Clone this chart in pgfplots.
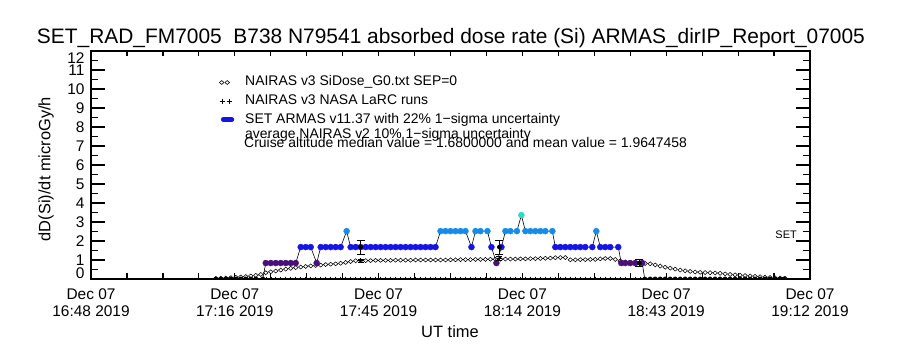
\documentclass[border=0pt]{standalone}
\usepackage{pgfplots}
\pgfplotsset{compat=1.18}
\usepackage{pgfplotstable}
\usepackage{fontspec}
\setmainfont{Liberation Sans}
\definecolor{purpC}{RGB}{75,15,120}
\definecolor{blueC}{RGB}{20,20,230}
\definecolor{lightC}{RGB}{20,140,235}
\definecolor{cyanC}{RGB}{40,220,200}

% NAIRAS v3 SiDose_G0 (minutes after 16:48 UT, microGy/h)
\pgfplotstableread{
t v
25 0.03
26 0.04
27 0.05
28 0.07
29 0.09
30 0.11
31 0.13
32 0.16
33 0.19
34 0.24
35 0.33
36 0.38
37 0.42
38 0.47
39 0.52
40 0.56
41 0.60
42 0.63
43 0.66
44 0.69
45 0.71
46 0.73
47 0.76
48 0.78
49 0.80
50 0.83
51 0.87
52 0.92
53 0.96
54 0.97
55 0.97
56 0.97
57 0.98
58 0.98
59 0.98
60 0.98
61 0.99
62 0.99
63 0.99
64 0.99
65 1.00
66 1.00
67 1.00
68 1.00
69 1.00
70 1.00
71 1.00
72 1.01
73 1.01
74 1.02
75 1.02
76 1.02
77 1.03
78 1.03
79 1.03
80 1.04
81 1.04
82 1.04
83 1.05
84 1.05
85 1.05
86 1.06
87 1.06
88 1.07
89 1.07
90 1.08
91 1.09
92 1.10
93 1.12
94 1.13
95 1.13
96 1.01
97 1.01
98 1.02
99 1.02
100 1.03
101 1.03
102 1.06
103 1.08
104 1.08
105 1.03
106 0.95
107 0.90
108 0.86
109 0.83
110 0.82
111 0.82
112 0.80
113 0.74
114 0.68
115 0.62
116 0.57
117 0.52
118 0.47
119 0.43
120 0.40
121 0.37
122 0.35
123 0.34
124 0.33
125 0.32
126 0.30
127 0.27
128 0.24
129 0.22
130 0.20
131 0.18
132 0.16
133 0.14
134 0.12
135 0.10
136 0.08
137 0.06
138 0.05
139 0.04
}\nairas

% SET ARMAS v11.37 (class: z=0, p=0.84, b=1.68, l=2.52, c=3.36)
\pgfplotstableread{
t v c
25 0 z
26 0 z
27 0 z
28 0 z
29 0 z
30 0 z
31 0 z
32 0 z
33 0 z
34.4 0 z
35 0.84 p
36 0.84 p
37 0.84 p
38 0.84 p
39 0.84 p
40 0.84 p
41 0.84 p
42 1.68 b
43 1.68 b
44 1.68 b
45.2 0.84 p
46 1.68 b
47 1.68 b
48 1.68 b
49 1.68 b
50 1.68 b
51.2 2.52 l
52 1.68 b
53 1.68 b
54 1.68 b
55 1.68 b
56 1.68 b
57 1.68 b
58 1.68 b
59 1.68 b
60 1.68 b
61 1.68 b
62 1.68 b
63 1.68 b
64 1.68 b
65 1.68 b
66 1.68 b
67 1.68 b
68 1.68 b
69 1.68 b
70 2.52 l
71 2.52 l
72 2.52 l
73 2.52 l
74 2.52 l
75 2.52 l
76.2 1.68 b
77 2.52 l
78 2.52 l
79.4 2.52 l
80.2 1.68 b
81.2 0.84 p
82.2 1.68 b
83 2.52 l
84 2.52 l
85.3 2.52 l
86.2 3.36 c
87 2.52 l
88 2.52 l
89 2.52 l
90 2.52 l
91 2.52 l
92.4 2.52 l
93 1.68 b
94 1.68 b
95 1.68 b
96 1.68 b
97 1.68 b
98 1.68 b
99 1.68 b
100.4 1.68 b
101.2 2.52 l
102 1.68 b
103 1.68 b
104 1.68 b
105.6 1.68 b
106.2 0.84 p
107 0.84 p
108 0.84 p
109 0.84 p
110.4 0.84 p
110.9 0 z
112 0 z
113 0 z
114 0 z
115 0 z
116 0 z
117 0 z
118 0 z
119 0 z
120 0 z
121 0 z
122 0 z
123 0 z
124 0 z
125 0 z
126 0 z
127 0 z
128 0 z
129 0 z
130 0 z
131 0 z
132 0 z
133 0 z
134 0 z
135 0 z
136 0 z
137 0 z
138 0 z
138.8 0 z
}\armas

\begin{document}
\begin{tikzpicture}
\useasboundingbox (0,0) rectangle (900bp,350bp);
\begin{axis}[
  at={(91bp,71bp)}, anchor=south west,
  scale only axis, width=719bp, height=228bp,
  xmin=0, xmax=144, ymin=0, ymax=12,
  axis line style={line width=1.5bp},
  tick style={black, line width=1.2bp},
  tick align=inside,
  major tick length=14bp, minor tick length=7bp,
  xtick style={/pgfplots/major tick length=5.5bp, /pgfplots/minor tick length=5.5bp},
  xtick={0,28.8,57.6,86.4,115.2,144},
  xticklabels={{Dec 07\\16:48 2019},{Dec 07\\17:16 2019},{Dec 07\\17:45 2019},{Dec 07\\18:14 2019},{Dec 07\\18:43 2019},{Dec 07\\19:12 2019}},
  minor x tick num=3,
  ytick={0,1,2,3,4,5,6,7,8,9,10,11,12},
  yticklabels={{\raisebox{6bp}[\height][\depth]{0}},1,2,3,4,5,6,7,8,9,10,11,{\raisebox{-7bp}[\height][\depth]{12}}},
  minor y tick num=1,
  xticklabel style={align=center, font=\fontsize{15.5}{17}\selectfont, yshift=-6bp},
  yticklabel style={font=\fontsize{15.5}{17}\selectfont, xshift=-3bp},
  clip marker paths=true,
  legend cell align=left,
  legend style={at={(rel axis cs:0.1711,0.9013)}, anchor=north west,
    draw=none, fill=none, inner sep=0pt, outer sep=0pt,
    font=\fontsize{14}{16}\selectfont, row sep=3bp,
    nodes={inner sep=1bp, text height=10.5bp, text depth=3.5bp},
    /tikz/every odd column/.append style={column sep=10bp}},
]
\addlegendimage{legend image code/.code={\path (0bp,0bp) (18bp,0bp);
  \draw[black, line width=0.55bp, only marks, mark=diamond, mark size=2bp, mark options={xscale=1.5}] plot coordinates {(7.5bp,-1bp)(13bp,-1bp)};}}
\addlegendentry{NAIRAS v3 SiDose\_G0.txt SEP=0}
\addlegendimage{legend image code/.code={\path (0bp,0bp) (18bp,0bp);
  \draw[black, line width=0.6bp, only marks, mark=+, mark size=2.5bp] plot coordinates {(8bp,-1bp)(15bp,-1bp)};}}
\addlegendentry{NAIRAS v3 NASA LaRC runs}
\addlegendimage{legend image code/.code={\path (0bp,0bp) (18bp,0bp);
  \draw[blueC, line width=5bp, line cap=round] (9.2bp,0bp) -- (17.5bp,0bp);}}
\addlegendentry{SET ARMAS v11.37 with 22\% 1−sigma uncertainty}

% small ticks along the bottom
\addplot[forget plot, only marks, black, mark=|, mark size=1.3bp, mark options={line width=0.5bp}] coordinates {
(35,0.06)(36,0.06)(37,0.06)(38,0.06)(39,0.06)(40,0.06)(41,0.06)(42,0.06)(43,0.06)(44,0.06)
(45,0.06)(46,0.06)(47,0.06)(48,0.06)(49,0.06)(50,0.06)(51,0.06)(52,0.06)(53,0.06)(54,0.06)
(55,0.06)(56,0.06)(57,0.06)(58,0.06)(59,0.06)(60,0.06)(61,0.06)(62,0.06)(63,0.06)(64,0.06)
(65,0.06)(66,0.06)(67,0.06)(68,0.06)(69,0.06)(70,0.06)(71,0.06)(72,0.06)(73,0.06)(74,0.06)
(75,0.06)(76,0.06)(77,0.06)(78,0.06)(79,0.06)(80,0.06)(81,0.06)(82,0.06)(83,0.06)(84,0.06)
(85,0.06)(86,0.06)(87,0.06)(88,0.06)(89,0.06)(90,0.06)(91,0.06)(92,0.06)(93,0.06)(94,0.06)
(95,0.06)(96,0.06)(97,0.06)(98,0.06)(99,0.06)(100,0.06)(101,0.06)(102,0.06)(103,0.06)(104,0.06)
(105,0.06)(106,0.06)(107,0.06)(108,0.06)(109,0.06)(110,0.06)};

% NAIRAS diamonds
\addplot[forget plot, only marks, black, mark=diamond, mark size=2bp, mark options={xscale=1.5, line width=0.55bp}]
  table[x=t, y=v]{\nairas};

% ARMAS connecting line
\addplot[forget plot, black, line width=0.6bp, mark=none] table[x=t, y=v]{\armas};
% ARMAS dots coloured by level
\addplot[forget plot, scatter, only marks, mark=*, mark size=3bp,
  scatter src=explicit symbolic,
  scatter/classes={
    z={mark=*, mark size=2.2bp, draw=black, fill=black},
    p={mark=*, draw=purpC, fill=purpC},
    b={mark=*, draw=blueC, fill=blueC},
    l={mark=*, draw=lightC, fill=lightC},
    c={mark=*, draw=cyanC, fill=cyanC}}]
  table[x=t, y=v, meta=c]{\armas};

% ARMAS 22% uncertainty bars
\addplot[forget plot, black, only marks, mark=none, line width=0.7bp,
  error bars/.cd, y dir=both, y explicit,
  error mark options={rotate=90, mark size=4bp, line width=0.7bp}]
  coordinates {(54,1.68) +- (0,0.37) (81.8,1.68) +- (0,0.37) (109.8,0.84) +- (0,0.185)};
% NASA LaRC runs with 10% uncertainty
\addplot[forget plot, black, only marks, mark=+, mark size=2.5bp, line width=0.7bp,
  error bars/.cd, y dir=both, y explicit,
  error mark options={rotate=90, mark size=3bp, line width=0.7bp}]
  coordinates {(54,0.96) +- (0,0.1) (81.8,1.1) +- (0,0.11)};
\end{axis}

\node[anchor=base, font=\fontsize{21}{24}\selectfont] at (451bp,306bp)
  {SET\_RAD\_FM7005\ \ B738 N79541 absorbed dose rate (Si) ARMAS\_dirIP\_Report\_07005};
\node[rotate=90, font=\fontsize{16.5}{18}\selectfont] at (46bp,181bp) {dD(Si)/dt microGy/h};
\node[anchor=base, font=\fontsize{16.5}{18}\selectfont] at (450bp,12.5bp) {UT time};
\node[anchor=base west, inner sep=0pt, font=\fontsize{14}{16}\selectfont] at (245bp,211bp)
  {average NAIRAS v2 10\% 1−sigma uncertainty};
\node[anchor=base west, inner sep=0pt, font=\fontsize{14}{16}\selectfont] at (244bp,202bp)
  {Cruise altitude median value = 1.6800000 and mean value = 1.9647458};
\node[anchor=base east, inner sep=0pt, font=\fontsize{11}{13}\selectfont] at (797bp,111bp) {SET};
\end{tikzpicture}
\end{document}
